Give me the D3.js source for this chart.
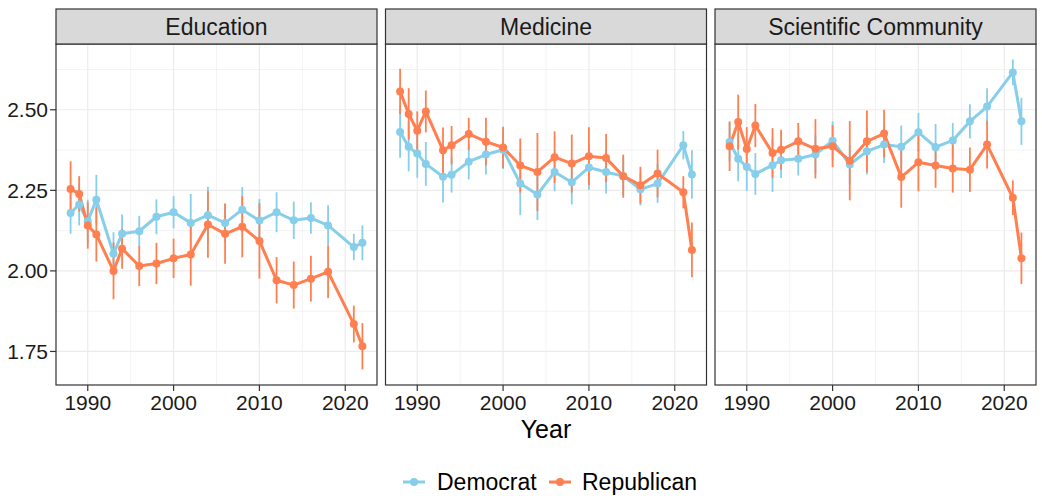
<!DOCTYPE html>
<html>
<head>
<meta charset="utf-8">
<script src="https://cdn.jsdelivr.net/npm/d3@7"></script>
<style>
  body { margin: 0; background: #fff; }
  svg { display: block; font-family: "Liberation Sans", Arial, Helvetica, sans-serif; }
</style>
</head>
<body>
<div id="chart"></div>
<script>
// survey years
const years = [1988, 1989, 1990, 1991, 1993, 1994, 1996, 1998, 2000, 2002, 2004, 2006, 2008, 2010, 2012, 2014, 2016, 2018, 2021, 2022];

const facets = ['Education', 'Medicine', 'Scientific Community'];
const parties = ['Democrat', 'Republican'];
const partyColors = ['#87CEEB', '#FF7F50'];

const yTicks = [1.75, 2.00, 2.25, 2.50];
const xTicks = [1990, 2000, 2010, 2020];

// mean confidence, by facet and party
const eduDem = [2.180, 2.206, 2.154, 2.221, 2.053, 2.115, 2.123, 2.168, 2.182, 2.149, 2.173, 2.149, 2.190, 2.156, 2.182, 2.157, 2.164, 2.141, 2.074, 2.087];
const eduDemErr = [0.065, 0.065, 0.067, 0.077, 0.067, 0.060, 0.048, 0.054, 0.050, 0.090, 0.088, 0.060, 0.070, 0.067, 0.062, 0.058, 0.049, 0.063, 0.041, 0.054];
const eduRep = [2.254, 2.239, 2.141, 2.113, 2.000, 2.069, 2.015, 2.023, 2.039, 2.051, 2.144, 2.115, 2.137, 2.093, 1.971, 1.956, 1.976, 1.997, 1.835, 1.766];
const eduRepErr = [0.086, 0.055, 0.072, 0.084, 0.088, 0.062, 0.062, 0.064, 0.061, 0.097, 0.103, 0.093, 0.095, 0.117, 0.072, 0.073, 0.071, 0.081, 0.057, 0.072];

const medDem = [2.431, 2.385, 2.364, 2.332, 2.292, 2.298, 2.339, 2.361, 2.376, 2.271, 2.237, 2.307, 2.275, 2.321, 2.307, 2.294, 2.253, 2.271, 2.390, 2.299];
const medDemErr = [0.080, 0.076, 0.075, 0.068, 0.080, 0.055, 0.055, 0.062, 0.060, 0.098, 0.079, 0.060, 0.069, 0.070, 0.067, 0.060, 0.050, 0.060, 0.044, 0.075];
const medRep = [2.557, 2.487, 2.435, 2.495, 2.374, 2.390, 2.425, 2.401, 2.383, 2.327, 2.307, 2.353, 2.333, 2.356, 2.350, 2.294, 2.266, 2.302, 2.244, 2.065];
const medRepErr = [0.070, 0.080, 0.060, 0.065, 0.071, 0.060, 0.050, 0.074, 0.064, 0.084, 0.121, 0.080, 0.090, 0.090, 0.075, 0.067, 0.057, 0.074, 0.050, 0.085];

const sciDem = [2.400, 2.348, 2.323, 2.301, 2.328, 2.343, 2.348, 2.361, 2.404, 2.330, 2.371, 2.392, 2.385, 2.430, 2.384, 2.405, 2.464, 2.510, 2.616, 2.464];
const sciDemErr = [0.060, 0.070, 0.075, 0.065, 0.083, 0.055, 0.052, 0.060, 0.060, 0.060, 0.072, 0.057, 0.066, 0.060, 0.072, 0.054, 0.053, 0.057, 0.040, 0.073];
const sciRep = [2.387, 2.462, 2.378, 2.451, 2.366, 2.376, 2.402, 2.379, 2.387, 2.342, 2.402, 2.426, 2.291, 2.337, 2.327, 2.318, 2.314, 2.392, 2.227, 2.039];
const sciRepErr = [0.077, 0.085, 0.068, 0.067, 0.077, 0.062, 0.057, 0.092, 0.065, 0.123, 0.096, 0.074, 0.095, 0.090, 0.069, 0.075, 0.069, 0.074, 0.054, 0.080];

const seriesByFacet = [
  [[eduDem, eduDemErr], [eduRep, eduRepErr]],
  [[medDem, medDemErr], [medRep, medRepErr]],
  [[sciDem, sciDemErr], [sciRep, sciRepErr]]
];

const width = 1042, height = 496;
const panelLeft = 56, panelW = 321, panelGap = 8.5;
const stripTop = 9, stripH = 35, plotTop = 44, plotBottom = 385;

const svg = d3.select('#chart').append('svg')
  .attr('width', width)
  .attr('height', height);

// shared scales (ggplot style 5% expansion)
const allLo = [], allHi = [];
seriesByFacet.forEach(f => f.forEach(([v, e]) => v.forEach((d, i) => { allLo.push(d - e[i]); allHi.push(d + e[i]); })));
const yMin = d3.min(allLo), yMax = d3.max(allHi);
const yPad = (yMax - yMin) * 0.05;
const y = d3.scaleLinear().domain([yMin - yPad, yMax + yPad]).range([plotBottom, plotTop]);
const xPad = (d3.max(years) - d3.min(years)) * 0.05;

const yMinor = d3.range(1.625, 2.8, 0.25).filter(v => v > y.domain()[0] && v < y.domain()[1]);
const xMinor = [1985, 1995, 2005, 2015, 2025];

facets.forEach((name, fi) => {
  const x0 = panelLeft + fi * (panelW + panelGap);
  const x = d3.scaleLinear()
    .domain([d3.min(years) - xPad, d3.max(years) + xPad])
    .range([x0, x0 + panelW]);
  const xMinorIn = xMinor.filter(v => v > x.domain()[0] && v < x.domain()[1]);

  const g = svg.append('g');

  // grid
  g.selectAll('.yminor').data(yMinor).enter().append('line')
    .attr('x1', x0).attr('x2', x0 + panelW)
    .attr('y1', d => y(d)).attr('y2', d => y(d))
    .attr('stroke', '#EBEBEB').attr('stroke-width', 0.6);
  g.selectAll('.xminor').data(xMinorIn).enter().append('line')
    .attr('y1', plotTop).attr('y2', plotBottom)
    .attr('x1', d => x(d)).attr('x2', d => x(d))
    .attr('stroke', '#EBEBEB').attr('stroke-width', 0.6);
  g.selectAll('.ymajor').data(yTicks).enter().append('line')
    .attr('x1', x0).attr('x2', x0 + panelW)
    .attr('y1', d => y(d)).attr('y2', d => y(d))
    .attr('stroke', '#EBEBEB').attr('stroke-width', 1.2);
  g.selectAll('.xmajor').data(xTicks).enter().append('line')
    .attr('y1', plotTop).attr('y2', plotBottom)
    .attr('x1', d => x(d)).attr('x2', d => x(d))
    .attr('stroke', '#EBEBEB').attr('stroke-width', 1.2);

  const series = seriesByFacet[fi];

  // error bars
  series.forEach(([vals, errs], pi) => {
    g.selectAll('.err' + pi).data(years).enter().append('line')
      .attr('x1', d => x(d)).attr('x2', d => x(d))
      .attr('y1', (d, i) => y(vals[i] - errs[i]))
      .attr('y2', (d, i) => y(vals[i] + errs[i]))
      .attr('stroke', partyColors[pi])
      .attr('stroke-width', 1.8);
  });

  // lines
  const line = d3.line().x(d => x(d[0])).y(d => y(d[1]));
  series.forEach(([vals], pi) => {
    g.append('path')
      .datum(years.map((yr, i) => [yr, vals[i]]))
      .attr('d', line)
      .attr('fill', 'none')
      .attr('stroke', partyColors[pi])
      .attr('stroke-width', 3)
      .attr('stroke-linejoin', 'round');
  });

  // points
  series.forEach(([vals], pi) => {
    g.selectAll('.pt' + pi).data(years).enter().append('circle')
      .attr('cx', d => x(d))
      .attr('cy', (d, i) => y(vals[i]))
      .attr('r', 4)
      .attr('fill', partyColors[pi]);
  });

  // panel border
  g.append('rect')
    .attr('x', x0).attr('y', plotTop)
    .attr('width', panelW).attr('height', plotBottom - plotTop)
    .attr('fill', 'none').attr('stroke', '#333333').attr('stroke-width', 1.2);

  // strip
  g.append('rect')
    .attr('x', x0).attr('y', stripTop)
    .attr('width', panelW).attr('height', stripH)
    .attr('fill', '#D9D9D9').attr('stroke', '#333333').attr('stroke-width', 1.2);
  g.append('text')
    .attr('x', x0 + panelW / 2).attr('y', stripTop + stripH / 2 + 8)
    .attr('text-anchor', 'middle')
    .attr('font-size', 23)
    .attr('fill', '#1A1A1A')
    .text(name);

  // x axis
  const xAxis = g.append('g');
  xAxis.selectAll('line').data(xTicks).enter().append('line')
    .attr('x1', d => x(d)).attr('x2', d => x(d))
    .attr('y1', plotBottom).attr('y2', plotBottom + 6)
    .attr('stroke', '#333333').attr('stroke-width', 1.2);
  xAxis.selectAll('text').data(xTicks).enter().append('text')
    .attr('x', d => x(d)).attr('y', plotBottom + 25)
    .attr('text-anchor', 'middle')
    .attr('font-size', 21)
    .attr('fill', '#1A1A1A')
    .text(d => d);

  // y axis only on first panel
  if (fi === 0) {
    const yAxis = g.append('g');
    yAxis.selectAll('line').data(yTicks).enter().append('line')
      .attr('x1', x0 - 6).attr('x2', x0)
      .attr('y1', d => y(d)).attr('y2', d => y(d))
      .attr('stroke', '#333333').attr('stroke-width', 1.2);
    yAxis.selectAll('text').data(yTicks).enter().append('text')
      .attr('x', x0 - 8).attr('y', d => y(d) + 7.5)
      .attr('text-anchor', 'end')
      .attr('font-size', 21)
      .attr('fill', '#1A1A1A')
      .text(d => d3.format('.2f')(d));
  }
});

// x axis title
svg.append('text')
  .attr('x', (panelLeft + panelLeft + 3 * panelW + 2 * panelGap) / 2)
  .attr('y', 438)
  .attr('text-anchor', 'middle')
  .attr('font-size', 25)
  .attr('fill', '#000')
  .text('Year');

// legend
const legendPos = [[403, 437], [549, 582]];
const legend = svg.append('g');
parties.forEach((p, i) => {
  const [kx, tx] = legendPos[i];
  legend.append('line')
    .attr('x1', kx).attr('x2', kx + 22)
    .attr('y1', 482).attr('y2', 482)
    .attr('stroke', partyColors[i]).attr('stroke-width', 3);
  legend.append('circle')
    .attr('cx', kx + 11).attr('cy', 482).attr('r', 4)
    .attr('fill', partyColors[i]);
  legend.append('text')
    .attr('x', tx).attr('y', 490)
    .attr('font-size', 23)
    .attr('fill', '#000')
    .text(p);
});
</script>
</body>
</html>
